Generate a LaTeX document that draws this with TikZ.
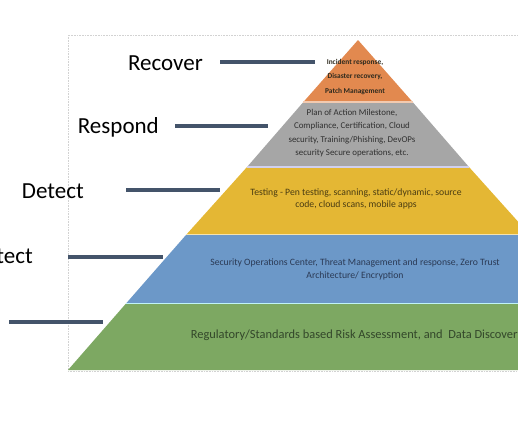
\documentclass[tikz,border=0pt]{standalone}
\usepackage{fontspec}
\setmainfont{Carlito}
\definecolor{leadcol}{HTML}{44546A}
\definecolor{recovercol}{HTML}{E2894F}
\definecolor{respondcol}{HTML}{A6A6A6}
\definecolor{detectcol}{HTML}{E4B734}
\definecolor{protectcol}{HTML}{6C98C8}
\definecolor{identifycol}{HTML}{7DA862}
\definecolor{recoverink}{HTML}{2E2A1E}
\definecolor{respondink}{HTML}{303030}
\definecolor{detectink}{HTML}{4A3C12}
\definecolor{protectink}{HTML}{2B3A55}
\definecolor{identifyink}{HTML}{33472A}
\begin{document}
\begin{tikzpicture}[x=1pt, y=-1pt,
    lbl/.style={anchor=base east, inner sep=0pt, font=\fontsize{23}{26}\selectfont},
    leader/.style={draw=leadcol, line width=3.6pt},
    frame/.style={draw=gray!35, line width=0.6pt, densely dotted},
    seam/.style={line width=1.6pt},
    inner/.style={align=center, inner sep=0pt}]
    \useasboundingbox (0,0) rectangle (518,432);
    \clip (0,0) rectangle (518,432);
    % frame
    \draw[frame] (68,35) rectangle (560,371);
    % pyramid bands
    \fill[recovercol]  (358,40) -- (412.6,102) -- (303.4,102) -- cycle;
    \fill[respondcol]  (303.4,102) -- (412.6,102) -- (469,167) -- (247,167) -- cycle;
    \fill[detectcol]   (247,167) -- (469,167) -- (529.6,234.5) -- (186.4,234.5) -- cycle;
    \fill[protectcol]  (186.4,234.5) -- (529.6,234.5) -- (590,303.5) -- (126,303.5) -- cycle;
    \fill[identifycol] (126,303.5) -- (590,303.5) -- (648,370) -- (68,370) -- cycle;
    \draw[seam, recovercol!45!white]  (303.4,102) -- (412.6,102);
    \draw[seam, respondcol!60!blue!30!white] (247,167) -- (469,167);
    \draw[seam, detectcol!40!white]   (186.4,234.5) -- (529.6,234.5);
    \draw[seam, protectcol!40!cyan!30!white] (126,303.5) -- (590,303.5);
    % band texts
    \node[inner, text=recoverink, font=\fontsize{7.4}{14.5}\selectfont\bfseries] (recovertext) at (355,77)
        {Incident response,\\Disaster recovery,\\Patch Management};
    \node[inner, text=respondink, font=\fontsize{8.9}{13.4}\selectfont] (respondtext) at (352,133)
        {Plan of Action Milestone,\\Compliance, Certification, Cloud\\security, Training/Phishing, DevOPs\\security Secure operations, etc.};
    \node[inner, text=detectink, font=\fontsize{9.7}{12}\selectfont] (detecttext) at (356,198.5)
        {Testing - Pen testing, scanning, static/dynamic, source\\code, cloud scans, mobile apps};
    \node[inner, text=protectink, font=\fontsize{9.7}{13}\selectfont] (protecttext) at (355,269.5)
        {Security Operations Center, Threat Management and response, Zero Trust\\Architecture/ Encryption};
    \node[inner, text=identifyink, font=\fontsize{12.4}{14}\selectfont] (identifytext) at (357,335)
        {Regulatory/Standards based Risk Assessment, and\ \ Data Discovery};
    % side labels
    \node[lbl] (recover) at (203,70) {Recover};
    \node[lbl] (respond) at (159,133) {Respond};
    \node[lbl] (detect) at (84,198) {Detect};
    \node[lbl] (protect) at (33,263) {Protect};
    \coordinate (recover-a) at (220,62);  \coordinate (recover-b) at (315,62);
    \coordinate (respond-a) at (175,126); \coordinate (respond-b) at (268,126);
    \coordinate (detect-a) at (126,190);  \coordinate (detect-b) at (220,190);
    \coordinate (protect-a) at (68,257);  \coordinate (protect-b) at (163,257);
    \coordinate (identify-a) at (9,322);  \coordinate (identify-b) at (103,322);
    \draw[leader] (recover-a) -- (recover-b);
    \draw[leader] (respond-a) -- (respond-b);
    \draw[leader] (detect-a) -- (detect-b);
    \draw[leader] (protect-a) -- (protect-b);
    \draw[leader] (identify-a) -- (identify-b);
\end{tikzpicture}
\end{document}
